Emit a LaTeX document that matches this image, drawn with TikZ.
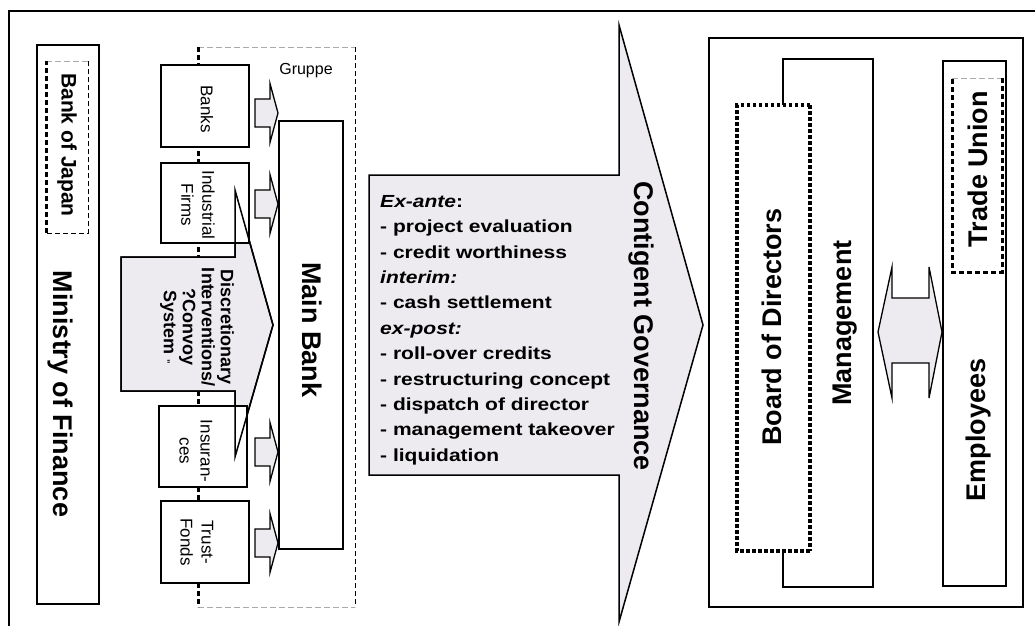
\documentclass[tikz,border=0pt]{standalone}
\usepackage{fontspec}
\setmainfont{Liberation Sans}
\definecolor{callgray}{RGB}{237,235,240}
\definecolor{dashgray}{RGB}{170,170,170}
\begin{document}
\begin{tikzpicture}[x=1pt,y=1pt,
  box/.style={draw=black, line width=1.5pt, fill=white, inner sep=0pt},
  plainbox/.style={inner sep=0pt, outer sep=0pt},
  biglbl/.style={font=\bfseries\fontsize{27}{32}\selectfont, inner sep=0pt},
  midlbl/.style={font=\bfseries\fontsize{21}{25}\selectfont, inner sep=0pt},
  smalllbl/.style={font=\fontsize{17}{21}\selectfont, align=center, inner sep=0pt},
  calllbl/.style={font=\bfseries\fontsize{18}{19}\selectfont, align=center, inner sep=0pt},
  listlbl/.style={font=\bfseries\fontsize{17.5}{25.4}\selectfont, align=left, inner sep=0pt, transform shape, xscale=1.2},
  outline/.style={draw=black, line width=1.5pt},
  callout/.style={draw=black, line width=1.5pt, fill=callgray, line join=miter},
  thickdash/.style={draw=black, line width=3pt, dash pattern=on 5pt off 3pt},
  thindash/.style={draw=black, line width=1pt, dash pattern=on 5pt off 3pt},
  graydash/.style={draw=dashgray, line width=1pt, dash pattern=on 6pt off 3pt},
  dotline/.style={draw=black, line width=4pt, dash pattern=on 3.5pt off 2.5pt},
  smallarrow/.pic={\draw[callout, line width=1.3pt] (-11,-14) -- (4,-14) -- (4,-29.5) -- (12,0) -- (4,29.5) -- (4,14) -- (-11,14) -- cycle;}
]
\useasboundingbox (0,0) rectangle (1035,-625);
\clip (0,0) rectangle (1035,-625);
\fill[white] (0,0) rectangle (1035,-625);

% outer frame
\draw[line width=1.5pt] (9,-11) rectangle (1050,-640);

% ---------------- left part ----------------
\node (mof) [box, minimum width=62pt, minimum height=559pt] at (68,-324.5) {};
\node (boj) [plainbox, minimum width=42pt, minimum height=172pt] at (67,-147) {};
\draw[graydash] (boj.north west) -- (boj.north east);
\draw[thindash] (boj.north east) -- (boj.south east) -- (boj.south west);
\draw[thickdash] (boj.south west) -- (boj.north west);
\node (bojt) [midlbl, rotate=-90] at (67,-145) {Bank of Japan};
\node (moft) [biglbl, rotate=-90] at (60,-394) {Ministry of Finance};

% Gruppe region
\node (grp) [plainbox, minimum width=157pt, minimum height=560pt] at (276.5,-327) {};
\draw[graydash] (grp.north west) -- (grp.north east);
\draw[graydash] (grp.south west) -- (grp.south east);
\draw[thindash] (grp.north east) -- (grp.south east);
\draw[thickdash] (grp.north west) -- (grp.south west);
\node (grpt) [font=\fontsize{16}{19}\selectfont, inner sep=0pt] at (306,-70.5) {Gruppe};

% discretionary callout (fill)
\path[callout] (121,-257) -- (235,-257) -- (235,-190) -- (273,-325) -- (235,-457) -- (235,-391) -- (121,-391) -- cycle;

% small boxes
\node (banks) [box, minimum width=88pt, minimum height=82pt] at (205,-106) {};
\node (indus) [box, minimum width=88pt, minimum height=80pt] at (205,-203) {};
\node (insur) [box, minimum width=88pt, minimum height=81pt] at (203,-446.5) {};
\node (trust) [box, minimum width=88pt, minimum height=82pt] at (205,-542) {};

% callout outline over boxes
\draw[outline, line join=miter] (121,-257) -- (235,-257) -- (235,-190) -- (273,-325) -- (235,-457) -- (235,-391) -- (121,-391) -- cycle;

\node (bankst) [smalllbl, rotate=-90] at (207,-109) {Banks};
\node (indust) [smalllbl, rotate=-90] at (198,-205) {Industrial\\Firms};
\node (insurt) [smalllbl, rotate=-90] at (196,-451) {Insuran-\\ces};
\node (trustt) [smalllbl, rotate=-90] at (197,-542) {Trust-\\Fonds};
\node (disct) [calllbl, rotate=-90] at (197,-327) {Discretionary\\Interventions/\\?Convoy\\System \raisebox{0.5ex}{\fontsize{9}{9}\selectfont „}};

% small block arrows
\pic at (266,-113) {smallarrow};
\pic at (266,-204) {smallarrow};
\pic at (266,-452) {smallarrow};
\pic at (266,-543) {smallarrow};

% main bank
\node (mainb) [box, minimum width=64pt, minimum height=428pt] at (311,-335) {};
\node (mainbt) [biglbl, rotate=-90] at (312,-330) {Main Bank};

% ---------------- middle callout ----------------
\path[callout] (369,-175) -- (619,-175) -- (619,-25) -- (703,-325) -- (619,-622) -- (619,-475) -- (369,-475) -- cycle;
\node (list) [listlbl, anchor=north west] at (380,-195) {%
\textit{Ex-ante}:\\
- project evaluation\\
- credit worthiness\\
\textit{interim:}\\
- cash settlement\\
\textit{ex-post:}\\
- roll-over credits\\
- restructuring concept\\
- dispatch of director\\
- management takeover\\
- liquidation};
\node (cgov) [biglbl, rotate=-90] at (641,-326) {Contigent Governance};

% ---------------- right part ----------------
\node (comp) [box, minimum width=314pt, minimum height=569pt] at (866,-322.5) {};
\node (mgmt) [box, minimum width=90pt, minimum height=528pt] at (828,-323) {};
\node (bod) [plainbox, minimum width=73pt, minimum height=446pt] at (773.5,-328) {};
\fill[white] (bod.north west) rectangle (bod.south east);
\draw[dotline, line width=3.5pt] (bod.north east) -- (bod.north west) -- (bod.south west) -- (bod.south east);
\draw[dotline, line width=4.5pt] (bod.north east) -- (bod.south east);
\node (bodt) [biglbl, rotate=90] at (772,-327) {Board of Directors};
\node (mgmtt) [biglbl, rotate=90] at (845,-323) {Management};

\node (empl) [box, minimum width=63pt, minimum height=525pt] at (974.5,-323.5) {};
\node (tu) [plainbox, minimum width=50pt, minimum height=194pt] at (977,-175) {};
\draw[graydash] (tu.north west) -- (tu.north east);
\draw[thickdash] (tu.north east) -- (tu.south east) -- (tu.south west) -- (tu.north west);
\node (tut) [biglbl, rotate=90] at (977.5,-169) {Trade Union};
\node (emplt) [biglbl, rotate=90] at (979,-430) {Employees};

% double arrow
\draw[callout, line width=1.3pt] (892,-298) -- (929,-298) -- (929,-267) -- (942,-332) -- (929,-398) -- (929,-363) -- (892,-363) -- (892,-398) -- (878,-332) -- (892,-267) -- cycle;
\end{tikzpicture}
\end{document}
